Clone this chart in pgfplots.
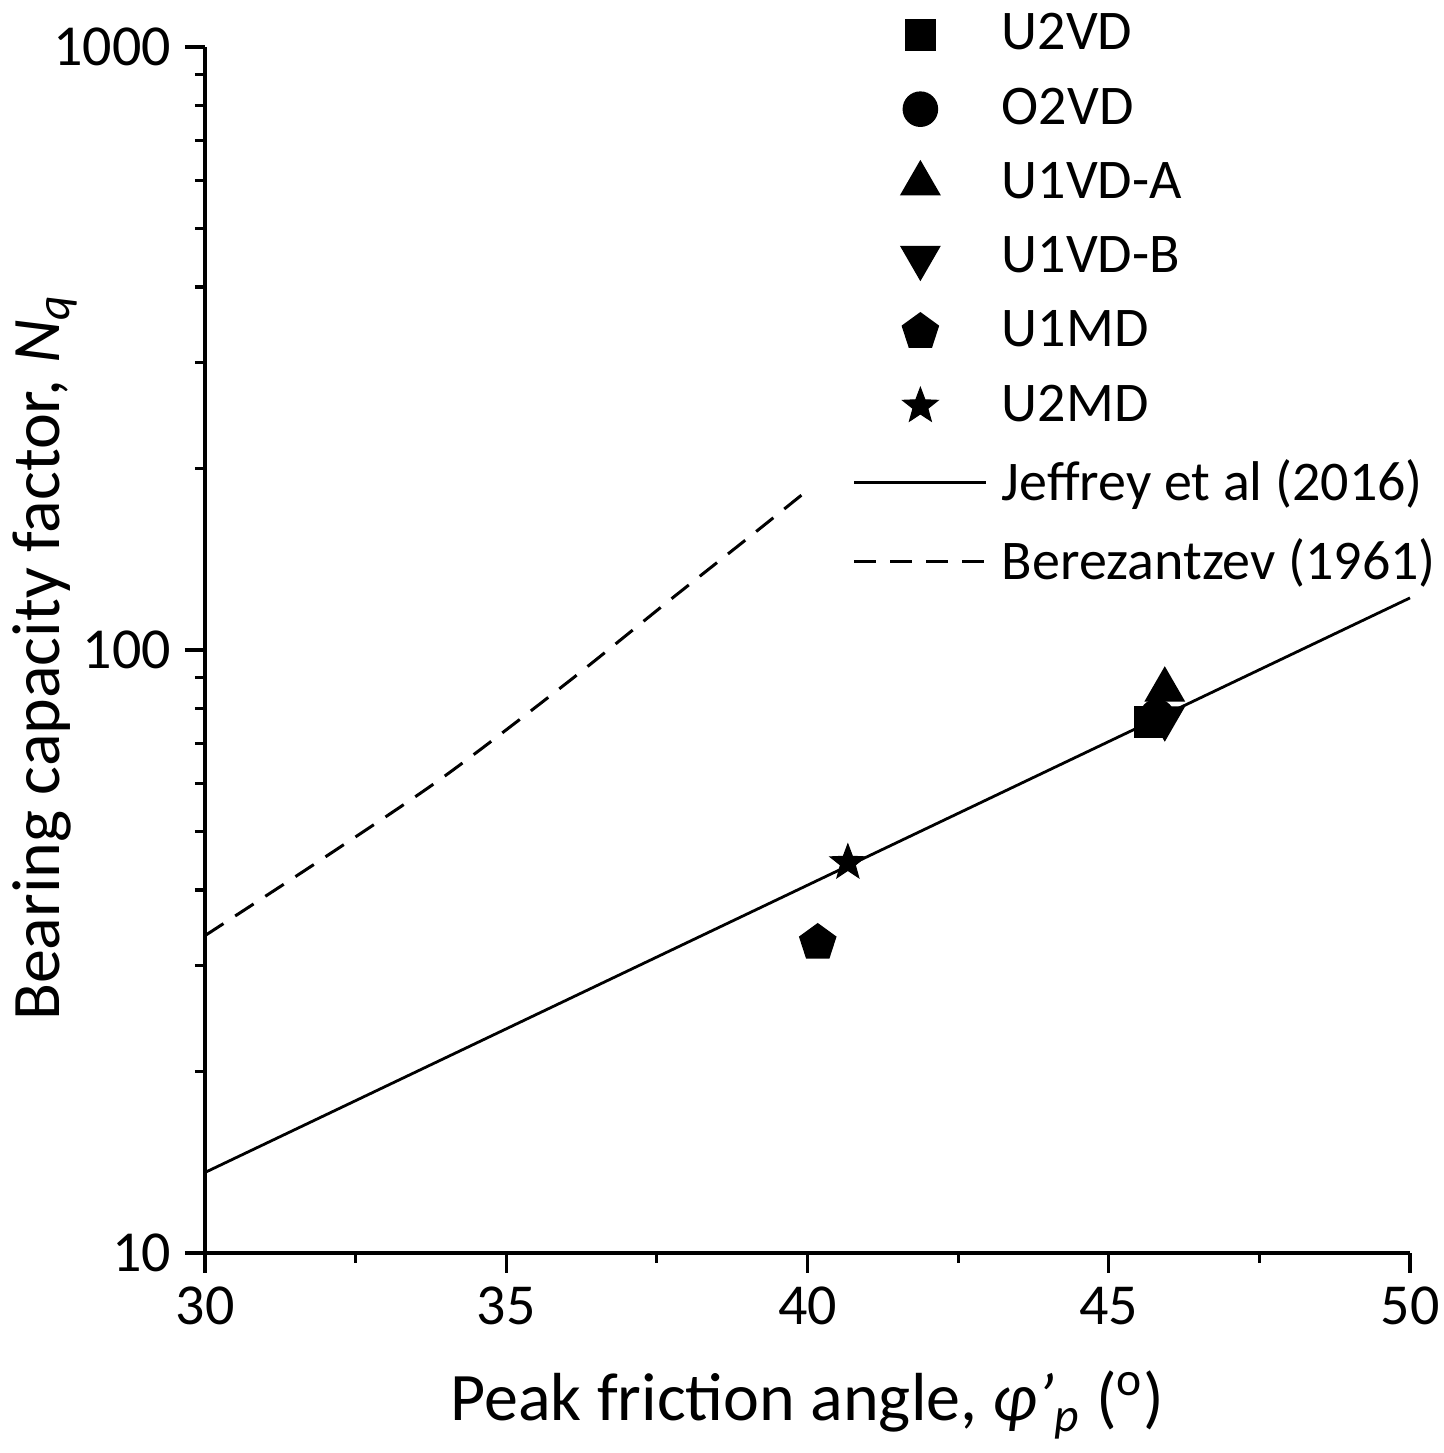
\documentclass[border=0pt]{standalone}
\usepackage{pgfplots}
\pgfplotsset{compat=1.18}
\usepackage{fontspec}
\setmainfont{Carlito}
\pgfdeclareplotmark{fstar}{%
  \pgfpathmoveto{\pgfqpointpolar{90}{\pgfplotmarksize}}%
  \pgfpathlineto{\pgfqpointpolar{126}{0.42\pgfplotmarksize}}%
  \pgfpathlineto{\pgfqpointpolar{162}{\pgfplotmarksize}}%
  \pgfpathlineto{\pgfqpointpolar{198}{0.42\pgfplotmarksize}}%
  \pgfpathlineto{\pgfqpointpolar{234}{\pgfplotmarksize}}%
  \pgfpathlineto{\pgfqpointpolar{270}{0.42\pgfplotmarksize}}%
  \pgfpathlineto{\pgfqpointpolar{306}{\pgfplotmarksize}}%
  \pgfpathlineto{\pgfqpointpolar{342}{0.42\pgfplotmarksize}}%
  \pgfpathlineto{\pgfqpointpolar{18}{\pgfplotmarksize}}%
  \pgfpathlineto{\pgfqpointpolar{54}{0.42\pgfplotmarksize}}%
  \pgfpathclose
  \pgfusepathqfillstroke}
\pgfplotsset{
  lineleg/.style={legend image code/.code={\draw[##1] (0bp,0bp) -- (33bp,0bp);}},
  markleg/.style={legend image code/.code={\draw[##1,mark repeat=2,mark phase=2] plot coordinates {(0bp,0bp) (16.5bp,0bp) (33bp,0bp)};}},
}
\begin{document}
\begin{tikzpicture}
\begin{semilogyaxis}[
  name=ax,
  scale only axis, width=301.25bp, height=301.5bp,
  xmin=30, xmax=50, ymin=10, ymax=1000,
  axis x line*=bottom, axis y line*=left,
  axis line style={line width=0.8bp, -},
  xtick={30,35,40,45,50}, minor xtick={32.5,37.5,42.5,47.5},
  xticklabels={30,35,40,45,50},
  ytick={10,100,1000}, yticklabels={10,100,1000},
  minor ytick={20,30,40,50,60,70,80,90,200,300,400,500,600,700,800,900},
  tick align=outside,
  major tick length=5bp, minor tick length=2.5bp,
  major tick style={line width=0.8bp, black},
  minor tick style={line width=0.8bp, black},
  tick label style={font=\fontsize{14.5bp}{17bp}\selectfont},
  /pgf/number format/assume math mode=true,
  xlabel={Peak friction angle, \textit{φ}\textit{’}\textsubscript{\textit{p}} (\textsuperscript{o})},
  ylabel={Bearing capacity factor, \textit{N}\textsubscript{\textit{q}}},
  label style={font=\fontsize{17bp}{20bp}\selectfont},
  xlabel style={at={(axis description cs:0.5,-0.126)}, anchor=center},
  ylabel style={at={(axis description cs:-0.133,0.494)}, anchor=center},
  clip=false,
  legend cell align=left,
  legend style={draw=none, fill=none, at={(axis description cs:0.537,1.035)}, anchor=north west,
    font=\fontsize{14bp}{16bp}\selectfont, row sep=4.05bp, column sep=1.5bp, inner sep=0bp},
]
\addplot[only marks, mark=*, mark size=4.25bp, black, forget plot] coordinates {(45.8,77.5)};
\addplot[only marks, mark=square*, mark size=3.75bp, black, markleg] coordinates {(45.68,76.0)};
\addlegendentry{U2VD}
\addlegendimage{only marks, mark=*, mark size=4.25bp, black, markleg}
\addlegendentry{O2VD}
\addplot[only marks, mark=triangle*, mark size=5.5bp, black, markleg] coordinates {(45.93,85.9)};
\addlegendentry{U1VD-A}
\addplot[only marks, mark=triangle*, mark size=5.5bp, black, mark options={rotate=180}, markleg] coordinates {(45.93,77.1)};
\addlegendentry{U1VD-B}
\addplot[only marks, mark=pentagon*, mark size=4.7bp, black, markleg] coordinates {(40.17,32.7)};
\addlegendentry{U1MD}
\addplot[only marks, mark=fstar, mark size=4.6bp, black, mark options={fill=black, line width=0.3bp}, markleg] coordinates {(40.67,44.4)};
\addlegendentry{U2MD}
\addplot[black, line width=0.7bp, lineleg] coordinates {(30,13.6) (50,122)};
\addlegendentry{Jeffrey et al (2016)}
\addplot[black, line width=0.75bp, dash pattern=on 5.5bp off 3.5bp, smooth, lineleg] coordinates {
(30,33.6) (32,45.4) (33.95,61.5) (36,88.1) (37.67,120) (39,153) (40,184)};
\addlegendentry{Berezantzev (1961)}
\end{semilogyaxis}
\pgfresetboundingbox
\path[use as bounding box] (ax.south west) ++(-51.25bp,-50bp) rectangle ++(361bp,363.25bp);
\end{tikzpicture}
\end{document}
